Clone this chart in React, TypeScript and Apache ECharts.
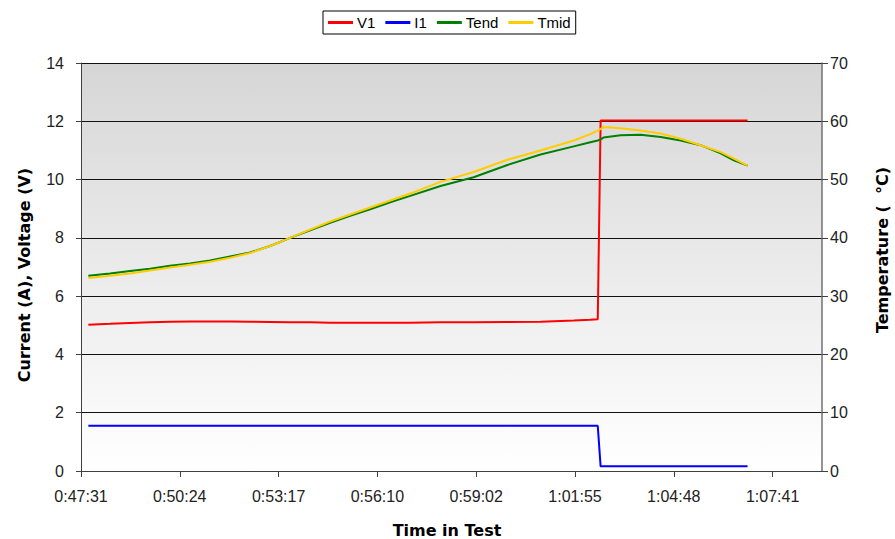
import React, { useEffect, useRef } from "react";
import * as echarts from "echarts";

const AXIS_START_SEC = 2851.2; // 0:47:31.2
const TICK_INTERVAL_SEC = 172.8;
const AXIS_SPAN_SEC = 1296;

const times = [
  "0:47:44", "0:48:22", "0:48:57", "0:49:32", "0:50:07", "0:50:42", "0:51:17", "0:51:52",
  "0:52:27", "0:53:02", "0:53:37", "0:54:12", "0:54:47", "0:55:22", "0:55:57", "0:56:32",
  "0:57:07", "0:58:00", "0:58:58", "0:59:57", "1:00:55", "1:01:53", "1:02:22", "1:02:35",
  "1:02:40", "1:02:45", "1:03:15", "1:03:50", "1:04:25", "1:05:00", "1:05:35", "1:06:10",
  "1:06:33", "1:06:57",
];

const v1Values = [
  5.02, 5.05, 5.08, 5.1, 5.12, 5.13, 5.13, 5.13,
  5.12, 5.11, 5.1, 5.1, 5.09, 5.09, 5.09, 5.09,
  5.09, 5.1, 5.1, 5.11, 5.12, 5.16, 5.19, 5.21,
  12.03, 12.03, 12.03, 12.03, 12.03, 12.03, 12.03, 12.03,
  12.03, 12.03,
];

const i1Values = [
  1.55, 1.55, 1.55, 1.55, 1.55, 1.55, 1.55, 1.55,
  1.55, 1.55, 1.55, 1.55, 1.55, 1.55, 1.55, 1.55,
  1.55, 1.55, 1.55, 1.55, 1.55, 1.55, 1.55, 1.55,
  0.16, 0.16, 0.16, 0.16, 0.16, 0.16, 0.16, 0.16,
  0.16, 0.16,
];

const tendValues = [
  33.5, 33.9, 34.3, 34.7, 35.2, 35.6, 36.1, 36.8,
  37.5, 38.6, 40.0, 41.3, 42.6, 43.8, 44.9, 46.1,
  47.2, 48.9, 50.4, 52.5, 54.3, 55.7, 56.4, 56.7,
  56.9, 57.2, 57.6, 57.7, 57.3, 56.7, 55.9, 54.5,
  53.3, 52.4,
];

const tmidValues = [
  33.1, 33.5, 33.9, 34.4, 34.9, 35.4, 35.9, 36.6,
  37.4, 38.6, 40.0, 41.4, 42.8, 44.0, 45.2, 46.4,
  47.6, 49.6, 51.3, 53.4, 55.0, 56.7, 57.8, 58.4,
  58.7, 59.0, 58.8, 58.4, 57.9, 57.0, 55.9, 54.7,
  53.6, 52.4,
];

const seriesNames = ["V1", "I1", "Tend", "Tmid"];
const seriesColors = ["#ff0000", "#0000ff", "#008000", "#ffcc00"];

function parseTime(t: string): number {
  const [h, m, s] = t.split(":").map(Number);
  return h * 3600 + m * 60 + s;
}

function formatTime(v: number): string {
  const total = Math.round(v + AXIS_START_SEC);
  const h = Math.floor(total / 3600);
  const m = Math.floor((total % 3600) / 60);
  const s = total % 60;
  return `${h}:${String(m).padStart(2, "0")}:${String(s).padStart(2, "0")}`;
}

function pairs(vals: number[]) {
  return times.map((t, i) => [parseTime(t) - AXIS_START_SEC, vals[i]]);
}

export default function App() {
  const ref = useRef<HTMLDivElement>(null);

  useEffect(() => {
    document.body.style.margin = "0";
    if (!ref.current) return;
    const chart = echarts.init(ref.current, null, { renderer: "svg" });
    const tickFont = "Liberation Sans, Arial, sans-serif";
    const titleFont = "bold 16px 'DejaVu Sans', sans-serif";
    const allVals = [v1Values, i1Values, tendValues, tmidValues];

    chart.setOption({
      animation: false,
      backgroundColor: "#ffffff",
      legend: {
        left: 323,
        top: 11,
        data: seriesNames.map((n) => ({ name: n, icon: "rect" })),
        itemWidth: 25,
        itemHeight: 3,
        itemGap: 10,
        padding: [4, 5, 4, 5],
        borderColor: "#000000",
        borderWidth: 1,
        backgroundColor: "#ffffff",
        textStyle: { fontFamily: tickFont, fontSize: 15, color: "#000000", padding: [0, 0, 0, -1] },
      },
      grid: {
        left: 81,
        right: 73,
        top: 63,
        bottom: 68,
        show: true,
        borderWidth: 0,
        backgroundColor: new echarts.graphic.LinearGradient(0, 0, 0, 1, [
          { offset: 0, color: "#d6d6d6" },
          { offset: 1, color: "#ffffff" },
        ]),
      },
      xAxis: {
        type: "value",
        min: 0,
        max: AXIS_SPAN_SEC,
        interval: TICK_INTERVAL_SEC,
        axisLine: { show: true, lineStyle: { color: "#404040", width: 1 } },
        axisTick: { show: true, length: 6, lineStyle: { color: "#404040" } },
        splitLine: { show: false },
        axisLabel: {
          formatter: (v: number) => formatTime(v),
          fontFamily: tickFont,
          fontSize: 16,
          color: "#222222",
          margin: 17,
          showMaxLabel: false,
        },
      },
      yAxis: [
        {
          type: "value",
          min: 0,
          max: 14,
          interval: 2,
          position: "left",
          axisLine: { show: true, lineStyle: { color: "#404040", width: 1 } },
          axisTick: { show: true, length: 5, lineStyle: { color: "#404040" } },
          splitLine: { show: true, lineStyle: { color: "#111111", width: 1.2 } },
          axisLabel: { fontFamily: tickFont, fontSize: 16, color: "#222222", margin: 17 },
        },
        {
          type: "value",
          min: 0,
          max: 70,
          interval: 10,
          position: "right",
          axisLine: { show: true, lineStyle: { color: "#707070", width: 1.5 } },
          axisTick: { show: true, length: 6, lineStyle: { color: "#404040" } },
          splitLine: { show: false },
          axisLabel: { fontFamily: tickFont, fontSize: 16, color: "#222222", margin: 8 },
        },
      ],
      graphic: [
        {
          type: "text",
          x: 24,
          y: 275,
          rotation: Math.PI / 2,
          style: {
            text: "Current (A), Voltage (V)",
            font: titleFont,
            fill: "#000000",
            align: "center",
            verticalAlign: "middle",
          },
        },
        {
          type: "text",
          x: 882,
          y: 250,
          rotation: Math.PI / 2,
          style: {
            text: "Temperature (  °C)",
            font: titleFont,
            fill: "#000000",
            align: "center",
            verticalAlign: "middle",
          },
        },
        {
          type: "text",
          x: 447,
          y: 530,
          style: {
            text: "Time in Test",
            font: titleFont,
            fill: "#000000",
            align: "center",
            verticalAlign: "middle",
          },
        },
      ],
      series: seriesNames.map((name, i) => ({
        name,
        type: "line",
        yAxisIndex: i < 2 ? 0 : 1,
        data: pairs(allVals[i]),
        showSymbol: false,
        symbol: "none",
        lineStyle: { color: seriesColors[i], width: 2 },
        itemStyle: { color: seriesColors[i] },
      })),
    });

    return () => chart.dispose();
  }, []);

  return <div ref={ref} style={{ width: 895, height: 539 }} />;
}
